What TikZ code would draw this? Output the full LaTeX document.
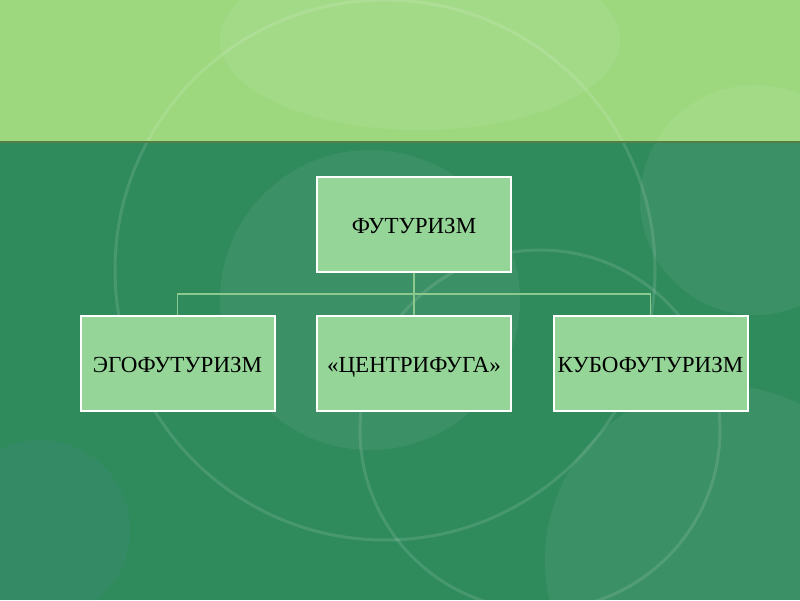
\documentclass[tikz,border=0pt]{standalone}
\usepackage{fontspec}
\setmainfont{Liberation Serif}
\definecolor{bandgreen}{HTML}{9DD87E}
\definecolor{deepgreen}{HTML}{2F8A5C}
\definecolor{boxgreen}{HTML}{95D598}
\definecolor{linkgreen}{HTML}{8CC98E}
\definecolor{edgegreen}{HTML}{557F45}
\tikzset{
  levelbox/.style={draw=white, line width=2pt, fill=boxgreen, minimum width=194pt,
    minimum height=95pt, inner sep=0pt, text height=18pt, text depth=0pt,
    font=\fontsize{23}{27}\selectfont},
  link/.style={draw=linkgreen, line width=1.6pt},
  ring/.style={draw=white, opacity=0.12, line width=3pt},
  blob/.style={fill=white, opacity=0.06}
}
\begin{document}
\begin{tikzpicture}[x=1pt,y=1pt]
    \useasboundingbox (0,0) rectangle (800,600);
    \begin{scope}
    \clip (0,0) rectangle (800,600);
    \fill[deepgreen] (0,0) rectangle (800,458);
    \fill[bandgreen] (0,458) rectangle (800,600);
    \fill[white, opacity=0.07] (420,560) ellipse (200 and 90);
    \fill[blob] (370,300) circle (150);
    \fill[blob] (755,400) circle (115);
    \fill[blob] (720,40) circle (175);
    \fill[blue!40, opacity=0.05] (40,70) circle (90);
    \draw[ring] (385,330) circle (270);
    \draw[ring] (540,170) circle (180);
    \fill[edgegreen] (0,456.5) rectangle (800,458.5);
    \end{scope}
    \node[levelbox] (futur) at (414,375.5) {ФУТУРИЗМ};
    \node[levelbox] (ego) at (177.5,236) {ЭГОФУТУРИЗМ};
    \node[levelbox] (centr) at (414,236) {«ЦЕНТРИФУГА»};
    \node[levelbox] (kubo) at (650.5,236) {КУБОФУТУРИЗМ};
    \coordinate (bus) at (414,306);
    \draw[link] (futur.south) -- (bus);
    \draw[link] (bus) -| (ego.north);
    \draw[link] (bus) -- (centr.north);
    \draw[link] (bus) -| (kubo.north);
  \end{tikzpicture}
\end{document}
